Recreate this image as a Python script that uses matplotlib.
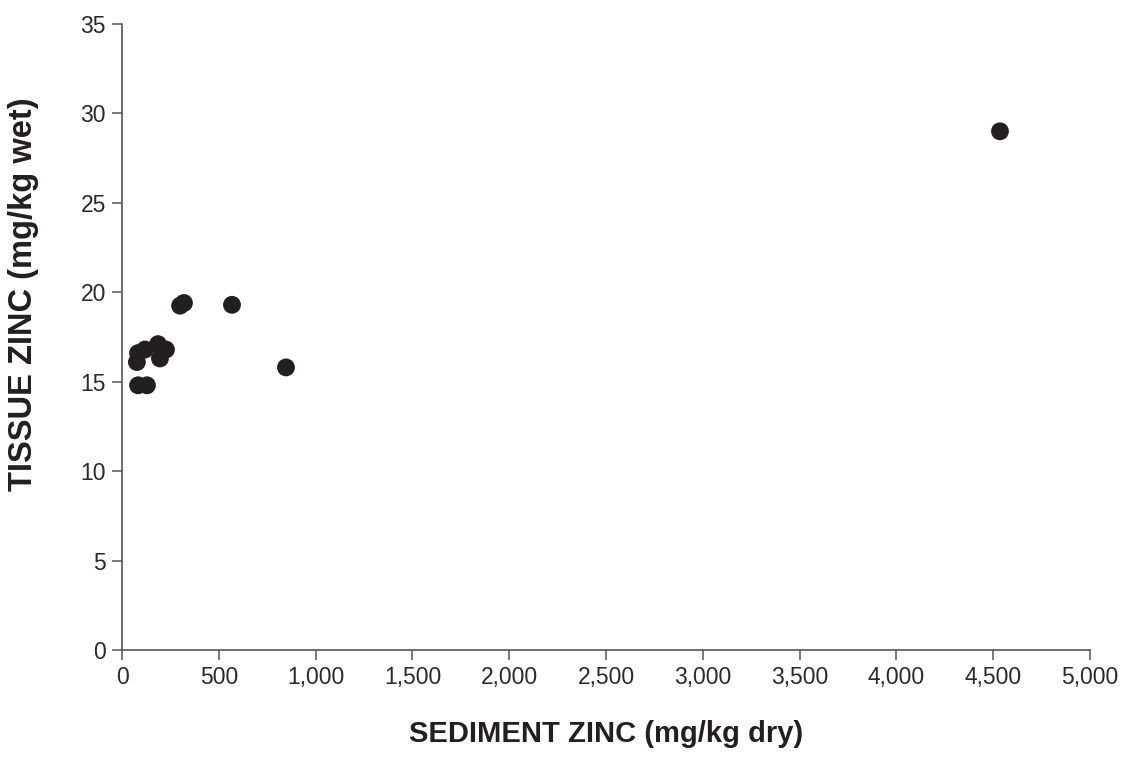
import matplotlib
matplotlib.use("Agg")
import matplotlib.pyplot as plt
from matplotlib.ticker import FuncFormatter

plt.rcParams['font.family'] = ['Liberation Sans', 'DejaVu Sans']

# sediment vs tissue zinc
sediment_zinc = [77, 83, 119, 83, 129, 186, 196, 227, 300, 320, 568, 847, 4535]
tissue_zinc = [16.1, 16.6, 16.8, 14.8, 14.8, 17.1, 16.3, 16.8, 19.25, 19.4, 19.3, 15.8, 29.0]

fig = plt.figure(figsize=(11.36, 7.59), dpi=100)
ax = fig.add_axes([0.1074, 0.1436, 0.8521, 0.8248])

ax.scatter(sediment_zinc, tissue_zinc, s=165, c='#231f20', edgecolors='none', zorder=3)

ax.set_xlim(0, 5000)
ax.set_ylim(0, 35)
ax.set_xticks(range(0, 5001, 500))
ax.set_yticks(range(0, 36, 5))
ax.xaxis.set_major_formatter(FuncFormatter(lambda v, p: '{:,.0f}'.format(v)))

for s in ['top', 'right']:
    ax.spines[s].set_visible(False)
for s in ['left', 'bottom']:
    ax.spines[s].set_color('#555555')
    ax.spines[s].set_linewidth(1.2)
ax.tick_params(direction='out', length=7.5, width=1.1, color='#555555',
               labelsize=16.5, labelcolor='#2a2a2a', pad=4)

ax.set_xlabel('SEDIMENT ZINC (mg/kg dry)', fontsize=21, fontweight='bold',
              color='#231f20', labelpad=22)
ax.set_ylabel('TISSUE ZINC (mg/kg wet)', fontsize=23.5, fontweight='bold',
              color='#231f20')
# label sits a bit above the axis middle in the original
ax.yaxis.set_label_coords(-0.086, 0.569)

fig.savefig('out.png', dpi=100)
